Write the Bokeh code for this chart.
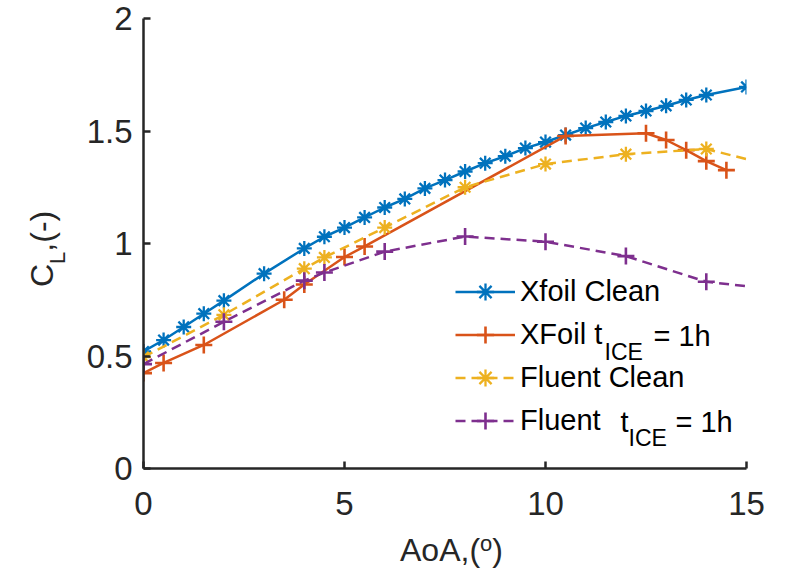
from bokeh.plotting import figure
from bokeh.models import (Range1d, FixedTicker, Legend, LegendItem, Label, Div)
from bokeh.layouts import row, column
from bokeh.embed import file_html
from bokeh.resources import INLINE

# ---------------- data ----------------
aoa_xfoil_clean = [0, 0.5, 1, 1.5, 2, 3, 4, 4.5, 5, 5.5, 6, 6.5, 7, 7.5, 8, 8.5,
                   9, 9.5, 10, 10.5, 11, 11.5, 12, 12.5, 13, 13.5, 14, 15]
cl_xfoil_clean = [0.52, 0.571, 0.629, 0.688, 0.746, 0.866, 0.978, 1.03, 1.071,
                  1.116, 1.16, 1.198, 1.245, 1.282, 1.32, 1.357, 1.388, 1.424,
                  1.451, 1.482, 1.513, 1.54, 1.567, 1.589, 1.612, 1.638, 1.66, 1.696]

aoa_xfoil_ice = [0, 0.5, 1.5, 3.5, 4, 5, 5.5, 10.5, 12.5, 13, 13.5, 14, 14.5]
cl_xfoil_ice = [0.424, 0.469, 0.549, 0.75, 0.818, 0.94, 0.987, 1.478, 1.49,
                1.46, 1.415, 1.366, 1.326]

aoa_fluent_clean = [0, 2, 4, 4.5, 6, 8, 10, 12, 14, 15]
cl_fluent_clean = [0.495, 0.683, 0.888, 0.938, 1.071, 1.25, 1.353, 1.397, 1.42, 1.375]

aoa_fluent_ice = [0, 2, 4, 4.5, 6, 8, 10, 12, 14, 15]
cl_fluent_ice = [0.464, 0.652, 0.835, 0.871, 0.964, 1.031, 1.008, 0.944, 0.83, 0.81]

# the Fluent curves run to the axis edge without a marker at the last point
fluent_marker_count = 9

x_ticks = [0, 5, 10, 15]
y_ticks = [0, 0.5, 1, 1.5, 2]
y_tick_labels = {0: "0", 0.5: "0.5", 1: "1", 1.5: "1.5", 2: "2"}

series_names = ["Xfoil Clean", "XFoil t", "Fluent Clean", "Fluent"]
colors = ["#0072BD", "#D95319", "#EDB120", "#7E2F8E"]

FONT = "Liberation Sans"
AXC = "#262626"

YLAB_W = 70      # width of the y-label strip
XLAB_H = 40      # height of the x-label strip

p = figure(width=788 - YLAB_W, height=574 - XLAB_H, output_backend="svg",
           toolbar_location=None, x_range=Range1d(0, 15), y_range=Range1d(0, 2),
           min_border_left=73, min_border_right=42, min_border_top=18,
           min_border_bottom=66)
p.outline_line_color = None
p.xgrid.visible = False
p.ygrid.visible = False
p.background_fill_color = "white"
p.border_fill_color = "white"

for ax in (p.xaxis[0], p.yaxis[0]):
    ax.axis_line_width = 2.5
    ax.axis_line_color = AXC
    ax.major_tick_line_color = AXC
    ax.major_tick_line_width = 2.5
    ax.major_tick_in = 7
    ax.major_tick_out = 0
    ax.minor_tick_line_color = None
    ax.major_label_text_font = FONT
    ax.major_label_text_font_size = "33px"
    ax.major_label_text_color = AXC

p.xaxis.ticker = FixedTicker(ticks=x_ticks)
p.yaxis.ticker = FixedTicker(ticks=y_ticks)
p.yaxis.major_label_overrides = y_tick_labels
p.xaxis.major_label_standoff = 23
p.yaxis.major_label_standoff = 11

LW = 2.5
DASH = "10 6"

r1l = p.line(aoa_xfoil_clean, cl_xfoil_clean, line_color=colors[0], line_width=LW)
r1m = p.scatter(aoa_xfoil_clean, cl_xfoil_clean, marker="asterisk", size=15,
                line_color=colors[0], line_width=2.3)

r2l = p.line(aoa_xfoil_ice, cl_xfoil_ice, line_color=colors[1], line_width=LW)
r2m = p.scatter(aoa_xfoil_ice, cl_xfoil_ice, marker="cross", size=17,
                line_color=colors[1], line_width=2.6)

r3l = p.line(aoa_fluent_clean, cl_fluent_clean, line_color=colors[2],
             line_width=LW, line_dash=DASH)
r3m = p.scatter(aoa_fluent_clean[:fluent_marker_count],
                cl_fluent_clean[:fluent_marker_count], marker="asterisk",
                size=15, line_color=colors[2], line_width=2.3)

r4l = p.line(aoa_fluent_ice, cl_fluent_ice, line_color=colors[3],
             line_width=LW, line_dash=DASH)
r4m = p.scatter(aoa_fluent_ice[:fluent_marker_count],
                cl_fluent_ice[:fluent_marker_count], marker="cross", size=17,
                line_color=colors[3], line_width=2.6)

legend = Legend(items=[
    LegendItem(label=series_names[0], renderers=[r1l, r1m]),
    LegendItem(label=series_names[1], renderers=[r2l, r2m]),
    LegendItem(label=series_names[2], renderers=[r3l, r3m]),
    LegendItem(label=series_names[3], renderers=[r4l, r4m]),
], location=(312, 26))
legend.border_line_color = None
legend.background_fill_alpha = 0
legend.padding = 0
legend.margin = 0
legend.spacing = 0
legend.label_height = 43
legend.glyph_height = 43
legend.glyph_width = 60
legend.label_standoff = 5
legend.label_text_font = FONT
legend.label_text_font_size = "29px"
legend.label_text_color = "black"
p.add_layout(legend, "center")


def lab(text, x, y, size, color="black"):
    p.add_layout(Label(x=x, y=y, x_units="screen", y_units="screen", text=text,
                       text_font=FONT, text_font_size=size, text_color=color,
                       text_align="left", text_baseline="middle"))


# legend subscripts / suffixes
lab("ICE", 461, 117, "23px")
lab("= 1h", 510, 133, "29px")
lab("t", 477, 47, "29px")
lab("ICE", 485, 31, "23px")
lab("= 1h", 532, 47, "29px")

# axis titles (HTML so that sub/superscripts stay real text)
base = ("font-family:'Liberation Sans'; font-size:32px; line-height:32px; "
        "color:#262626; white-space:nowrap;")
ylab_html = ('<div style="position:absolute; left:26px; top:287px; '
             'transform:rotate(-90deg); transform-origin:0 0; ' + base + '">'
             'C<span style="font-size:22px; position:relative; top:12px">L</span>,(-)'
             '</div>')
xlab_html = ('<div style="margin-left:330px; margin-top:0px; ' + base + '">'
             'AoA,(<span style="font-size:22px; position:relative; top:-10px">o</span>)'
             '</div>')

ydiv = Div(text=ylab_html, width=YLAB_W, height=574, margin=0,
           styles={"overflow": "visible"})
xdiv = Div(text=xlab_html, width=788 - YLAB_W, height=XLAB_H, margin=0,
           styles={"overflow": "visible"})

layout = row(ydiv, column(p, xdiv, spacing=0), spacing=0)

open("out.html", "w").write(file_html(layout, INLINE))
